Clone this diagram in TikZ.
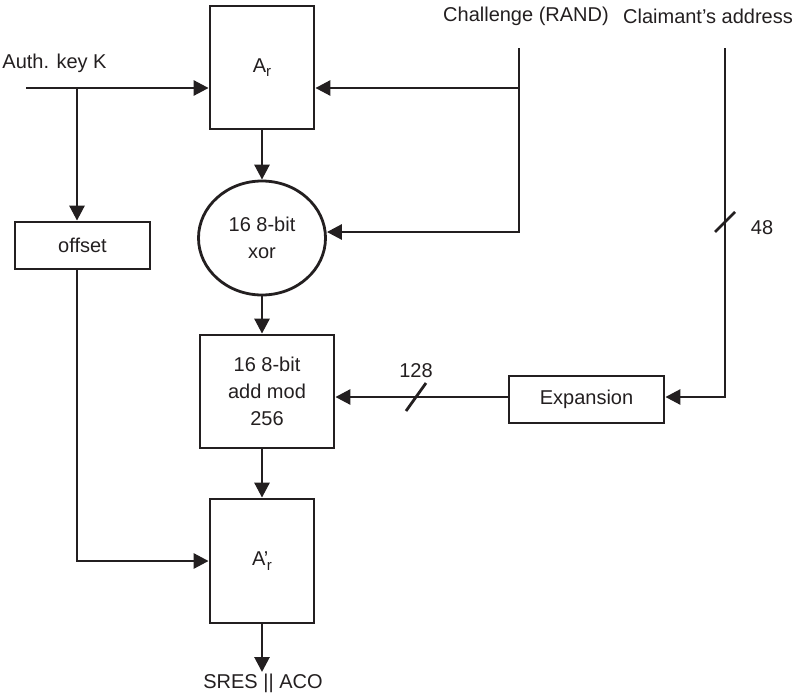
\documentclass[tikz,border=0pt]{standalone}
\usepackage{fontspec}
\setmainfont{Liberation Sans}
\usetikzlibrary{arrows.meta,shapes.geometric}
\definecolor{ink}{RGB}{35,31,32}

\begin{document}
\begin{tikzpicture}[x=1pt,y=-1pt,
  wire/.style={draw=ink, line width=2.8pt},
  arr/.style={wire, -{Triangle[length=15pt,width=15pt]}},
  blk/.style={draw=ink, line width=2.8pt, inner sep=0pt, align=center,
              text=ink, font=\fontsize{20}{27}\selectfont},
  lbl/.style={text=ink, inner sep=0pt, font=\fontsize{20}{27}\selectfont}]
\useasboundingbox (0,0) rectangle (808,699);

% processing blocks
\node[blk, minimum width=104pt, minimum height=123pt] (ar)  at (262,67.5)  {A\raisebox{-0.45ex}{\fontsize{15}{15}\selectfont r}};
\node[blk, ellipse, minimum width=127pt, minimum height=114pt] (xor) at (262,238) {16 8-bit\\xor};
\node[blk, minimum width=135pt, minimum height=47pt]  (off) at (82.5,245.5) {offset};
\node[blk, minimum width=134pt, minimum height=113pt] (add) at (267,391.5) {16 8-bit\\add mod\\256};
\node[blk, minimum width=104pt, minimum height=124pt] (ar2) at (262,561)   {A’\kern-1.5pt\raisebox{-0.45ex}{\fontsize{15}{15}\selectfont r}};
\node[blk, minimum width=155pt, minimum height=47pt]  (exp) at (586.5,399.5) {Expansion};

% input / output labels
\node[lbl] (key)  at (54.5,63) {Auth. key K};
\node[lbl] (chl)  at (526,16)  {Challenge (RAND)};
\node[lbl] (cla)  at (708,16)  {Claimant’s address};
\node[lbl] (res)  at (263,683) {SRES || ACO};
\node[lbl] (n48)  at (762,228) {48};
\node[lbl] (n128) at (416,371) {128};

% wire end points
\coordinate (kin)  at (26,88);
\coordinate (kbr)  at (77,88);
\coordinate (ctop) at (519,48);
\coordinate (cbot) at (519,232);
\coordinate (atop) at (725,48);
\coordinate (acor) at (725,397);
\coordinate (tip)  at (262,672);
\coordinate (s48)  at (725,222);
\coordinate (s128) at (416,397);

% key path
\draw[arr] (kin) -- (kin -| ar.west);
\draw[arr] (kbr) -- (kbr |- off.north);
\draw[arr] (kbr |- off.south) -- (kbr |- ar2.west) -- (ar2.west);

% challenge path
\draw[arr] (ctop) -- (cbot) -- (cbot -| xor.east);
\draw[arr] (ctop |- kin) -- (kin -| ar.east);

% main chain
\draw[arr] (ar.south) -- (xor.north);
\draw[arr] (xor.south) -- (xor.south |- add.north);
\draw[arr] (ar2.north |- add.south) -- (ar2.north);
\draw[arr] (ar2.south) -- (tip);

% address path
\draw[arr] (atop) -- (acor) -- (acor -| exp.east);
\draw[arr] (acor -| exp.west) -- (acor -| add.east);

% bus-width marks
\draw[wire] ([shift={(-10,10)}]s48) -- ([shift={(10,-10)}]s48);
\draw[wire] ([shift={(-10,14)}]s128) -- ([shift={(10,-14)}]s128);
\end{tikzpicture}
\end{document}
